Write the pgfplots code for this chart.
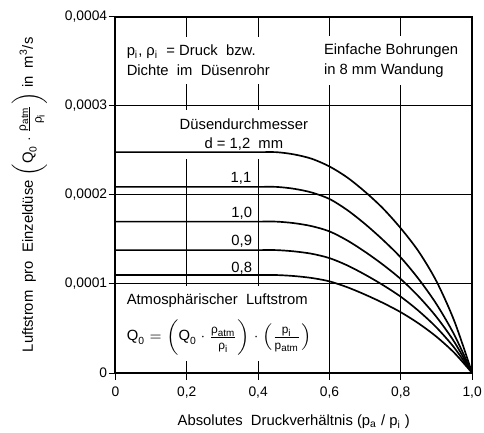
\documentclass[border=0pt]{standalone}
\usepackage{fontspec}
\setmainfont{Liberation Sans}
\setsansfont{Liberation Sans}
\usepackage{amsmath}
\usepackage{pgfplots}
\pgfplotsset{compat=1.18}
\newcommand{\fr}[2]{\frac{\text{\fontsize{6}{6}\selectfont #1\rule[-1.3pt]{0pt}{1pt}}}{\text{\fontsize{6}{6}\selectfont\rule{0pt}{5.6pt}#2}}}

\begin{document}
\begin{tikzpicture}
\begin{axis}[
  scale only axis,
  width=180.75pt, height=180.5pt,
  xmin=0, xmax=1, ymin=0, ymax=0.0004,
  xtick={0,0.2,0.4,0.6,0.8,1},
  xticklabels={0,{0,2},{0,4},{0,6},{0,8},{1,0}},
  ytick={0,0.0001,0.0002,0.0003,0.0004},
  yticklabels={0,{0,0001},{0,0002},{0,0003},{0,0004}},
  scaled y ticks=false,
  grid=major,
  major grid style={black, line width=0.5pt},
  axis line style={line width=1pt},
  tick align=outside,
  xtick pos=bottom, ytick pos=left,
  major tick length=3.5pt,
  tick style={black, line width=0.5pt},
  /pgf/number format/assume math mode=true,
  tick label style={font=\fontsize{7}{8}\selectfont},
  yticklabel style={inner xsep=0.5pt},
  label style={font=\fontsize{7.5}{9}\selectfont},
  xlabel={Absolutes\ \ Druckverhältnis (p\textsubscript{a} / p\textsubscript{i} )},
  xlabel style={at={(axis description cs:0.5,-0.136)}, anchor=center},
  ylabel={Luftstrom\ \ pro\ \ Einzeldüse $\left(\text{Q}_{\text{0}}\cdot\fr{ρ\textsubscript{atm}}{ρ\textsubscript{i}}\right)$ in\ \ m\textsuperscript{3}/s},
  ylabel style={at={(axis description cs:-0.241,0.5)}, anchor=center},
]
% text blocks (white fill hides the grid behind them, as in the original)
\node[fill=white, inner xsep=3pt, inner ysep=4pt, anchor=west, align=left,
      font=\fontsize{7.5}{10}\selectfont] at (axis cs:0.014,0.000351)
  {p\textsubscript{i}, ρ\textsubscript{i}\ \ = Druck\ \ bzw.\\Dichte\ \ im\ \ Düsenrohr};
\node[fill=white, inner xsep=3pt, inner ysep=4pt, anchor=west, align=left,
      font=\fontsize{7.5}{10}\selectfont] at (axis cs:0.567,0.000351)
  {Einfache Bohrungen\\in 8 mm Wandung};
\node[fill=white, inner xsep=3pt, inner ysep=4pt, anchor=center, align=center,
      font=\fontsize{7.5}{10}\selectfont] at (axis cs:0.36,0.0002678)
  {Düsendurchmesser\\d\ =\ 1,2\ \ mm};
\node[fill=white, inner xsep=3pt, inner ysep=4pt, anchor=west,
      font=\fontsize{7.5}{9}\selectfont] at (axis cs:0.014,0.0000811)
  {Atmosphärischer\ \ Luftstrom};
\node[fill=white, inner xsep=3pt, inner ysep=3pt, anchor=west,
      font=\fontsize{7.5}{9}\selectfont] at (axis cs:0.014,0.000040)
  {$\text{Q}_{\text{0}} = \left(\text{Q}_{\text{0}}\cdot\fr{ρ\textsubscript{atm}}{ρ\textsubscript{i}}\right)\cdot\left(\fr{p\textsubscript{i}}{p\textsubscript{atm}}\right)$};
\node[font=\fontsize{7.5}{9}\selectfont] at (axis cs:0.352,0.000219) {1,1};
\node[font=\fontsize{7.5}{9}\selectfont] at (axis cs:0.354,0.000179) {1,0};
\node[font=\fontsize{7.5}{9}\selectfont] at (axis cs:0.354,0.000148) {0,9};
\node[font=\fontsize{7.5}{9}\selectfont] at (axis cs:0.354,0.000118) {0,8};

% d = 1.2 mm
\addplot[black, line width=0.85pt, smooth] coordinates {
(0,0.000248)(0.2,0.000248)(0.4,0.000248)(0.45,0.000248)(0.5,0.0002455)(0.55,0.0002406)
(0.6,0.0002319)(0.65,0.0002195)(0.7,0.0002034)(0.75,0.0001848)(0.8,0.0001624)
(0.85,0.0001364)(0.9,0.0001029)(0.95,0.0000583)(1,0)};
% d = 1.1 mm
\addplot[black, line width=0.85pt, smooth] coordinates {
(0,0.000209)(0.2,0.000209)(0.4,0.000209)(0.45,0.000209)(0.5,0.0002069)(0.55,0.0002027)
(0.6,0.0001954)(0.65,0.0001829)(0.7,0.0001672)(0.75,0.0001494)(0.8,0.0001296)
(0.85,0.0001055)(0.9,0.0000773)(0.95,0.0000428)(1,0)};
% d = 1.0 mm
\addplot[black, line width=0.85pt, smooth] coordinates {
(0,0.000170)(0.2,0.000170)(0.4,0.000170)(0.45,0.000170)(0.5,0.0001683)(0.55,0.0001649)
(0.6,0.0001590)(0.65,0.0001488)(0.7,0.0001360)(0.75,0.0001216)(0.8,0.0001054)
(0.85,0.0000859)(0.9,0.0000629)(0.95,0.0000349)(1,0)};
% d = 0.9 mm
\addplot[black, line width=0.85pt, smooth] coordinates {
(0,0.000138)(0.2,0.000138)(0.4,0.000138)(0.45,0.000138)(0.5,0.0001366)(0.55,0.0001339)
(0.6,0.0001290)(0.65,0.0001208)(0.7,0.0001104)(0.75,0.0000987)(0.8,0.0000856)
(0.85,0.0000697)(0.9,0.0000511)(0.95,0.0000283)(1,0)};
% d = 0.8 mm
\addplot[black, line width=0.85pt, smooth] coordinates {
(0,0.000110)(0.2,0.000110)(0.4,0.000110)(0.45,0.000110)(0.5,0.0001089)(0.55,0.0001067)
(0.6,0.0001029)(0.65,0.0000963)(0.7,0.0000880)(0.75,0.0000787)(0.8,0.0000682)
(0.85,0.0000556)(0.9,0.0000407)(0.95,0.0000226)(1,0)};
\end{axis}
\pgfresetboundingbox
\path ([shift={(-58.5pt,-30pt)}]current axis.south west) rectangle ([shift={(6pt,8.5pt)}]current axis.north east);
\end{tikzpicture}
\end{document}
